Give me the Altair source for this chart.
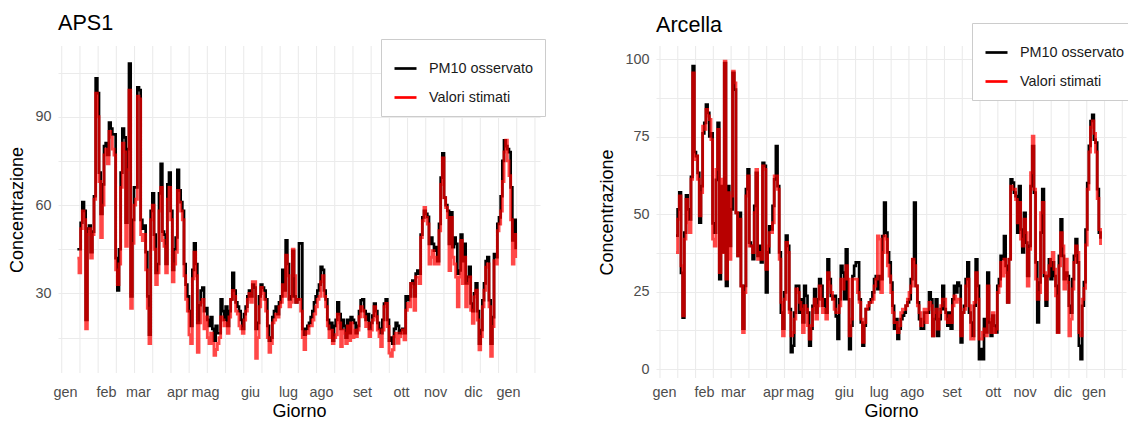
import altair as alt
import pandas as pd

FONT = "Liberation Sans"
SERIES = ["PM10 osservato", "Valori stimati"]
MONTHS = ["gen", "feb", "mar", "apr", "mag", "giu", "lug", "ago", "set", "ott", "nov", "dic", "gen"]

# month label positions on the "Giorno" index axis
APS1_MONTH_POS = [-6.4, 18.2, 37.4, 60.8, 77.6, 104.6, 127.4, 147.2, 171.8, 195.2, 215.6, 238.4, 259.4]
ARC_MONTH_POS = [-6.2, 17.8, 35.2, 59.2, 75.4, 101.8, 122.8, 142.6, 166.6, 191.2, 210.4, 233.2, 251.8]

APS1_OBS = [
    45, 45, 54, 61, 58, 21, 52, 53, 44, 51, 63, 103, 98, 71, 57, 67, 80, 81, 77, 88,
    86, 84, 84, 42, 31, 45, 71, 86, 83, 54, 79, 108, 29, 55, 66, 66, 100, 99, 55, 52,
    53, 44, 29, 16, 58, 64, 50, 37, 40, 64, 74, 51, 50, 40, 67, 71, 58, 38, 45, 49,
    72, 65, 61, 58, 40, 33, 29, 24, 19, 38, 47, 40, 20, 26, 31, 32, 24, 25, 21, 19,
    22, 18, 14, 19, 16.5, 16.5, 28, 24, 21, 25.5, 19, 24, 28, 37, 31, 27, 25.5, 24, 21, 18,
    23, 25.5, 29, 31, 29, 33, 32, 18, 20, 29, 33, 32, 31, 28, 19, 14, 15, 22, 24, 25.5,
    23, 27, 29, 38, 31, 48, 40, 28, 29, 44.5, 29, 27, 28, 47, 47, 18, 16, 18, 19, 20,
    22, 24, 27, 29, 31, 33, 39, 38, 31, 28, 21, 18, 20, 14, 19, 21, 27, 23, 18, 21,
    19, 15, 21, 16.5, 22, 21, 20,
    16.5, 19, 24, 27.7, 28, 24, 21, 23, 18, 20, 22.5, 26.6, 24, 20, 18, 16.5, 21, 26.6, 28, 21,
    14, 15, 13, 18, 20, 19, 16.5, 17.6, 18, 16.5, 29, 27.7, 29, 33.4, 34.4, 29, 36.7, 37.8, 36.7, 50,
    55.8, 58, 57, 56, 46.8, 49, 46.8, 44.5, 45.7, 41, 53.6, 69.3, 77.6, 62.5, 60, 58, 46.8, 57.5, 45.7, 49,
    46.8, 36.7, 37.8, 50, 41, 46.8, 33.4, 35.6, 39, 26.6, 24, 30, 33.4, 24, 13, 17.6, 27.7, 33.4, 41, 42.3,
    27.7, 13, 22, 43.4, 42.3, 53.6, 55.8,
    63, 75, 82, 80, 79, 78, 66, 48, 55, 45,
]
APS1_EST = [
    42, 37, 52, 58, 55, 18, 50, 52, 42, 50, 62, 98, 90, 68, 49, 60, 77, 79, 74, 85,
    83, 79, 77, 38, 33, 40, 66, 81, 78, 46, 72, 99, 25, 47, 60, 62, 97, 96, 50, 48,
    50, 38, 25, 13, 55, 60, 45, 33, 37, 58, 66, 48, 46, 37, 62, 66, 55, 34, 40, 44,
    65, 61, 58, 55, 36, 28, 24, 16, 13, 35, 44, 36, 10, 20, 27, 28, 18, 22, 15, 13,
    16.5, 13, 9, 11, 13, 15, 22, 21, 19, 20, 16.5, 22, 28, 31, 29, 24, 23, 19, 18, 16.5,
    21, 24, 28, 30, 27, 34, 34, 8, 15, 25.5, 32, 30, 28, 24, 15, 10, 13, 20, 21, 23,
    22, 25.5, 27, 33, 29, 43, 36, 25.5, 27, 45, 36, 27, 28, 28, 24, 15, 11, 17, 16.5, 19,
    19, 21, 23, 25.5, 28, 29, 34, 36, 29, 25.5, 19, 15, 17.5, 13, 15, 16, 23, 20, 12, 17.5,
    16.5, 13, 19, 14, 20, 15, 17.5,
    15.4, 17.6, 22.1, 25.5, 24.3, 22.1, 18.8, 19.9, 15.4, 17.6, 21, 25.5, 22.1, 17.6, 15.4, 12, 17.6, 25.5, 26.6, 18.8,
    9.8, 8.7, 10.9, 15.4, 16.5, 13.1, 15.4, 16.5, 17.6, 14.3, 24.3, 26.6, 25.5, 33.4, 32.2, 24.3, 35.6, 35.6, 33.4, 49,
    54.7, 59.2, 55.8, 53.6, 40, 42.3, 44.5, 40, 42.3, 40, 51.3, 67, 76, 62.5, 59.2, 55.8, 37.8, 55.8, 42.3, 40,
    35.6, 25.5, 35.6, 48, 33.4, 42.3, 25.5, 33.4, 35.6, 24.3, 19.9, 28.8, 31.1, 21, 10.9, 15.4, 25.5, 31.1, 38.9, 40,
    25.5, 8.7, 18.8, 41.1, 40, 51.3, 53.6,
    58, 68, 78, 82, 75, 70, 55, 40, 50, 42,
]

ARC_OBS = [
    43, 51.5, 57, 31, 16.6, 44, 56, 51.5, 48.3, 62, 97.7, 70, 68.7, 63.3, 47.2, 59, 76, 79.4, 85.3, 82.6,
    75, 76, 47, 44, 61, 79.4, 29, 59, 37.6, 98.7, 26.8, 59, 39.7, 51.5, 95.5, 90.1, 50.4, 36.5, 50.4, 26.8,
    13, 26.8, 58, 64.4, 40.8, 39.7, 35.4, 52.6, 63.3, 36.5, 39.7, 34.4, 66.5, 65.5, 24.7, 37.6, 46, 45, 52.6, 61.2,
    71.9, 59, 37.6, 18.2, 13, 24.7, 43, 39.7, 19.3, 5.4, 7.5, 18.2, 26.8, 26.8,
    18.2, 22.5, 15, 26.8, 23.6, 18.2, 7.5, 13, 20.4, 25.8, 18.2, 22.5, 29, 26.8, 20.4, 22.5, 18.2, 35.4, 29, 23.6,
    22.5, 23.6, 17, 9.7, 22.5, 33.3, 31.1, 22.5, 38.6, 22.5, 6.4, 14, 30, 33.3, 34.4, 34.4, 22.5, 15, 7.5, 14,
    19.3, 19.3, 21.5, 22.5, 24.7, 29, 30, 25.8, 30, 29, 42.9, 53.7, 44, 37.6, 34.4, 27.9, 20.4, 13, 16.1, 9.7,
    13, 16.1, 17.2, 18.2, 20.4, 21.5, 22.5, 29, 35.4, 53.7, 26.8, 21.5, 16.1, 13, 13, 18.2, 18.2, 18.2, 24.7, 22.5,
    10.7, 16.1, 22.5, 10.7, 16.1, 19.3, 26.8,
    19.3, 18.2, 14, 18.2, 13, 22.5, 26.8, 24.7, 27.9, 26.8, 8.6, 18.2, 20.4, 29, 34.4, 18.2, 15, 10.7, 20.4, 35.4,
    26.8, 3.2, 6.4, 3.2, 16.1, 11.8, 31.1, 15, 10.7, 17.2, 14, 11.8, 26.8, 29, 36.5, 35.4, 42.9, 33.3, 21.5, 35.4,
    61.2, 60.1, 56.9, 55.8, 44, 59, 45, 37.6, 50.4, 40.8, 30, 39.7, 59, 71.9, 56.9, 34.4, 15, 27.9, 44, 58,
    30, 20.4, 30, 35.4, 29, 34.4, 30, 26.8, 11.8, 36.5, 48.3, 36.5, 29, 31.1, 30, 20.4, 18.2, 29, 36.5, 41.9,
    34.4, 7.5, 3.2, 20.4,
    28, 45, 60, 72, 80, 82, 74, 73, 58, 44, 42,
]
ARC_EST = [
    37.6, 48.3, 55.8, 33.3, 17.2, 41.9, 54.7, 47.2, 44, 61.2, 95.5, 67.6, 68.7, 61.2, 49.4, 56.9, 78.3, 77.3, 83.7, 81.6,
    80.5, 74, 41.9, 39.7, 64.4, 77.3, 31.1, 61.2, 37.6, 99.3, 29, 56.9, 35.4, 55.8, 96.1, 92.3, 50.4, 36.5, 48.3, 26.8,
    11.8, 24.7, 55.8, 62.3, 39.7, 39.7, 37.6, 50.4, 64.4, 35.4, 37.6, 35.4, 65.5, 64.4, 32.2, 39.7, 44, 44, 47.2, 62.3,
    62.3, 58, 35.4, 21.5, 10.7, 22.5, 40.8, 37.6, 18.2, 10.7, 11.8, 16.1, 25.8, 24.7,
    21.5, 19.3, 11.8, 20.4, 19.3, 14, 9.7, 14, 19.3, 22.5, 16.1, 20.4, 26.8, 22.5, 18.2, 19.3, 16.1, 31.1, 26.8, 24.7,
    22.5, 19.3, 18.2, 18.2, 20.4, 29, 25.8, 29, 33.3, 29, 10.7, 16.1, 29, 29, 29, 24.7, 21.5, 16.1, 8.6, 15,
    19.3, 20.4, 21.5, 21.5, 22.5, 26.8, 29, 42.9, 41.9, 24.7, 37.6, 42.9, 41.9, 33.3, 30, 24.7, 18.2, 15, 15, 11.8,
    14, 18.2, 19.3, 19.3, 20.4, 22.5, 24.7, 26.8, 35.4, 33.3, 26.8, 20.4, 18.2, 14, 16.1, 19.3, 15, 19.3, 21.5, 20.4,
    10.7, 18.2, 19.3, 12.9, 18.2, 20.4, 22.5,
    22.5, 16.1, 15, 17.2, 15, 20.4, 23.6, 21.5, 22.5, 22.5, 10.7, 18.2, 19.3, 26.8, 29, 20.4, 9.7, 9.7, 21.5, 31.1,
    22.5, 9.7, 9.7, 11.8, 12.9, 10.7, 26.8, 16.1, 11.8, 18.2, 11.8, 12.9, 24.7, 26.8, 34.4, 30, 35.4, 31.1, 21.5, 35.4,
    59, 58, 58, 54.7, 47.2, 53.7, 41.9, 39.7, 48.3, 44, 26.8, 38.6, 63.3, 75.1, 58, 29, 22.5, 24.7, 50.4, 53.7,
    31.1, 22.5, 30, 33.3, 35.4, 37.6, 32.2, 23.6, 11.8, 33.3, 44, 39.7, 25.8, 35.4, 27.9, 10.7, 16.1, 25.8, 34.4, 39.7,
    37.6, 11.8, 10.7, 22.5,
    26, 40, 58, 70, 78, 80, 76, 70, 55, 45, 40,
]


def month_expr(pos):
    expr = "''"
    for name, p in reversed(list(zip(MONTHS, pos))):
        expr = f"abs(datum.value - ({p})) < 0.01 ? '{name}' : ({expr})"
    return expr


def panel(title, obs, est, mpos, xdom, ydom, yvals, ylab_every, gstart, gstep,
          w, h, lx, ly, title_dy, xlab_pad):
    n = len(obs)
    df = pd.DataFrame({
        "Giorno": list(range(1, n + 1)) * 2,
        "Concentrazione": list(obs) + list(est),
        "Serie": [SERIES[0]] * n + [SERIES[1]] * n,
    })
    grid_df = pd.DataFrame({"g": [gstart + k * gstep for k in range(27)]})

    xscale = alt.Scale(domain=xdom, nice=False, zero=False)
    xaxis = alt.Axis(values=mpos, labelExpr=month_expr(mpos), grid=False, ticks=False,
                     domain=False, title="Giorno", labelPadding=xlab_pad, titlePadding=4)
    yscale = alt.Scale(domain=ydom, nice=False, zero=False)
    yaxis = alt.Axis(values=yvals,
                     labelExpr=f"datum.value % {ylab_every} == 0 ? datum.label : ''",
                     grid=True, ticks=False, domain=False, title="Concentrazione",
                     labelPadding=7, titlePadding=8)
    color = alt.Color(
        "Serie:N",
        scale=alt.Scale(domain=SERIES, range=["#000000", "#FF0000"]),
        legend=alt.Legend(
            orient="none", legendX=lx, legendY=ly, title=" ", titleFontSize=3,
            titlePadding=2, strokeColor="#CCCCCC", fillColor="white", padding=12,
            symbolType="stroke", symbolSize=484, symbolStrokeWidth=2.7,
            symbolOpacity=1, labelFontSize=14.4, labelOffset=11, rowPadding=10,
            labelColor="#1A1A1A", labelFont=FONT,
        ),
    )

    grid = alt.Chart(grid_df).mark_rule(color="#EBEBEB", strokeWidth=1.1).encode(
        x=alt.X("g:Q", scale=xscale, axis=xaxis)
    )
    obs_line = alt.Chart(df).transform_filter(
        alt.datum.Serie == SERIES[0]
    ).mark_line(interpolate="step-after", strokeWidth=2.7).encode(
        x=alt.X("Giorno:Q", scale=xscale, axis=xaxis),
        y=alt.Y("Concentrazione:Q", scale=yscale, axis=yaxis),
        color=color,
    )
    est_line = alt.Chart(df).transform_filter(
        alt.datum.Serie == SERIES[1]
    ).mark_line(interpolate="step-after", strokeWidth=2.9, opacity=0.72).encode(
        x=alt.X("Giorno:Q", scale=xscale, axis=xaxis),
        y=alt.Y("Concentrazione:Q", scale=yscale, axis=yaxis),
        color=color,
    )
    return alt.layer(grid, obs_line, est_line).properties(
        width=w, height=h,
        title=alt.TitleParams(text=title, anchor="start", frame="group", fontSize=21.6,
                              font=FONT, fontWeight="normal", color="#000000",
                              baseline="alphabetic", offset=7, dy=title_dy),
    )


left = panel("APS1", APS1_OBS, APS1_EST, APS1_MONTH_POS, [-10.6, 278.6], [3, 114],
             [15, 30, 45, 60, 75, 90, 105], 30, -8.36, 10.92, 482, 327, 323, -7, 20, 12)
right = panel("Arcella", ARC_OBS, ARC_EST, ARC_MONTH_POS, [-11, 271.3], [-2.9, 104.2],
              [0, 12.5, 25, 37.5, 50, 62.5, 75, 87.5, 100], 25, -8.6, 10.68, 470, 332,
              316, -23, 38, 7)

chart = alt.hconcat(left, right, spacing=116, bounds="flush").resolve_scale(
    color="independent", x="independent", y="independent"
).properties(
    autosize=alt.AutoSizeParams(type="none"),
    padding={"left": 58, "top": 46, "right": 1070, "bottom": 377},
).configure_view(strokeWidth=0).configure_axis(
    labelFont=FONT, titleFont=FONT, labelFontSize=14.4, titleFontSize=18,
    labelColor="#4D4D4D", titleColor="#000000", titleFontWeight="normal",
    gridColor="#EBEBEB", gridWidth=1.1,
)

chart.save("out.html", embed_options={"renderer": "svg", "actions": False})
